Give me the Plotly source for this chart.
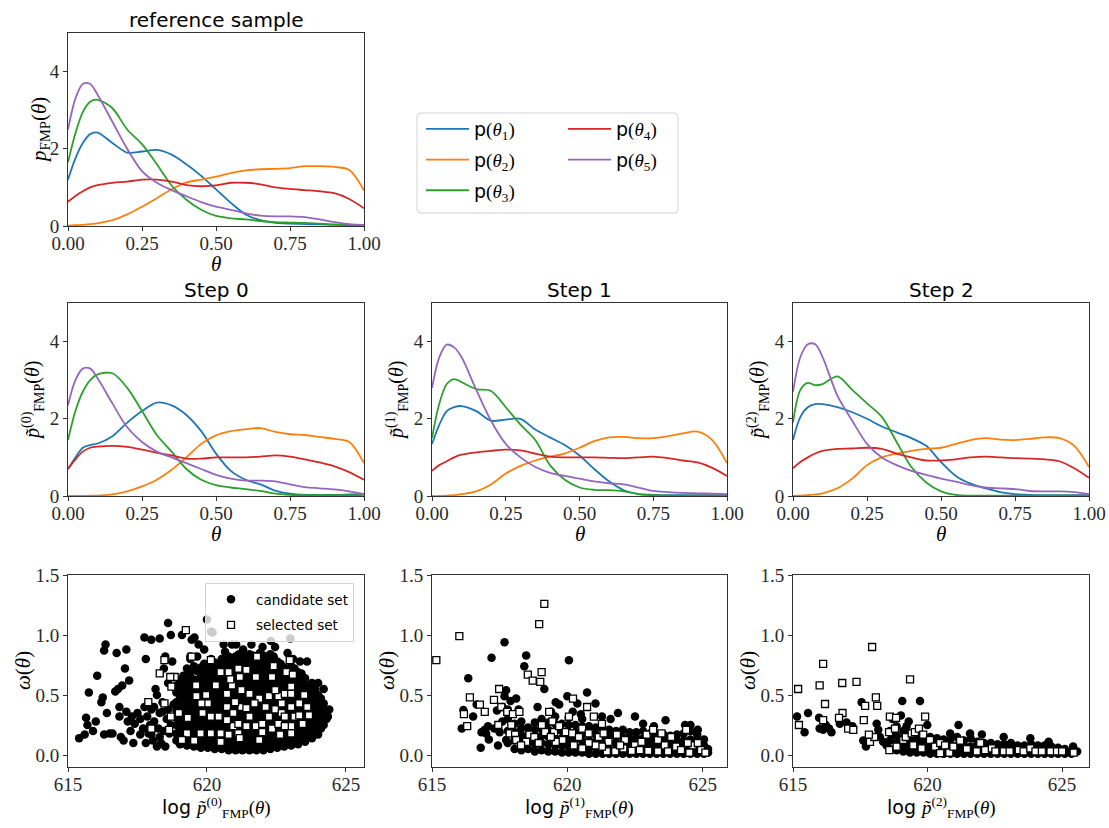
import plotly.graph_objects as go

# ---------------- data ----------------
theta = [0, 0.025, 0.05, 0.075, 0.1, 0.15, 0.2, 0.25, 0.3, 0.35, 0.4, 0.45,
         0.5, 0.55, 0.6, 0.65, 0.7, 0.75, 0.8, 0.85, 0.9, 0.95, 1.0]

ref_t1 = [1.2, 1.75, 2.15, 2.38, 2.42, 2.15, 1.9, 1.93, 1.97, 1.85, 1.6, 1.3, 0.95, 0.6, 0.3, 0.15, 0.08, 0.06, 0.05, 0.04, 0.03, 0.02, 0.02]
ref_t2 = [0.01, 0.02, 0.03, 0.05, 0.07, 0.15, 0.3, 0.5, 0.72, 0.95, 1.13, 1.2, 1.28, 1.37, 1.44, 1.47, 1.48, 1.5, 1.55, 1.55, 1.53, 1.45, 0.92]
ref_t3 = [1.65, 2.4, 2.95, 3.22, 3.27, 3.05, 2.5, 2.12, 1.6, 1.05, 0.68, 0.42, 0.26, 0.2, 0.17, 0.13, 0.1, 0.09, 0.08, 0.06, 0.04, 0.03, 0.02]
ref_t4 = [0.63, 0.78, 0.9, 1.0, 1.06, 1.12, 1.15, 1.2, 1.2, 1.15, 1.06, 1.03, 1.05, 1.12, 1.12, 1.08, 1.0, 0.96, 0.93, 0.9, 0.85, 0.7, 0.46]
ref_t5 = [2.5, 3.3, 3.68, 3.68, 3.4, 2.7, 2.0, 1.42, 1.12, 0.93, 0.77, 0.62, 0.5, 0.42, 0.33, 0.27, 0.25, 0.25, 0.23, 0.17, 0.1, 0.05, 0.03]

s0_t1 = [0.7, 1.0, 1.25, 1.32, 1.36, 1.55, 1.9, 2.2, 2.42, 2.35, 2.1, 1.68, 1.1, 0.65, 0.42, 0.3, 0.14, 0.06, 0.03, 0.03, 0.03, 0.04, 0.05]
s0_t2 = [0.0, 0.0, 0.0, 0.01, 0.01, 0.04, 0.12, 0.25, 0.42, 0.68, 1.0, 1.35, 1.57, 1.68, 1.73, 1.76, 1.66, 1.6, 1.58, 1.53, 1.48, 1.4, 0.85]
s0_t3 = [1.45, 2.2, 2.7, 3.0, 3.15, 3.18, 2.8, 2.2, 1.58, 1.15, 0.7, 0.42, 0.28, 0.22, 0.18, 0.13, 0.06, 0.03, 0.02, 0.02, 0.02, 0.02, 0.03]
s0_t4 = [0.7, 0.95, 1.15, 1.25, 1.28, 1.3, 1.27, 1.2, 1.12, 1.05, 0.97, 0.97, 1.0, 1.0, 1.0, 1.02, 1.05, 1.02, 0.95, 0.87, 0.77, 0.62, 0.42]
s0_t5 = [2.35, 3.0, 3.3, 3.3, 3.05, 2.4, 1.78, 1.4, 1.15, 1.0, 0.85, 0.7, 0.55, 0.45, 0.4, 0.4, 0.38, 0.3, 0.23, 0.2, 0.17, 0.12, 0.05]

s1_t1 = [1.35, 1.85, 2.2, 2.3, 2.33, 2.2, 1.95, 1.98, 2.0, 1.72, 1.52, 1.32, 1.05, 0.7, 0.38, 0.15, 0.05, 0.03, 0.02, 0.02, 0.02, 0.02, 0.02]
s1_t2 = [0.0, 0.0, 0.01, 0.02, 0.05, 0.12, 0.3, 0.58, 0.78, 0.92, 1.02, 1.1, 1.25, 1.42, 1.52, 1.53, 1.5, 1.5, 1.55, 1.62, 1.67, 1.45, 0.85]
s1_t3 = [1.5, 2.4, 2.9, 3.03, 2.95, 2.77, 2.72, 2.3, 1.85, 1.45, 0.8, 0.42, 0.22, 0.16, 0.15, 0.12, 0.05, 0.02, 0.01, 0.01, 0.01, 0.01, 0.02]
s1_t4 = [0.65, 0.8, 0.9, 1.0, 1.07, 1.13, 1.17, 1.2, 1.18, 1.1, 1.02, 1.0, 1.0, 1.0, 0.99, 0.98, 1.0, 1.02, 0.98, 0.92, 0.87, 0.73, 0.52]
s1_t5 = [2.8, 3.6, 3.92, 3.85, 3.6, 2.75, 1.95, 1.35, 1.0, 0.75, 0.6, 0.52, 0.45, 0.38, 0.33, 0.3, 0.22, 0.13, 0.1, 0.08, 0.07, 0.06, 0.05]

s2_t1 = [1.45, 2.05, 2.3, 2.38, 2.38, 2.3, 2.17, 2.0, 1.8, 1.65, 1.5, 1.3, 0.88, 0.52, 0.32, 0.2, 0.1, 0.05, 0.03, 0.02, 0.02, 0.02, 0.02]
s2_t2 = [0.0, 0.01, 0.02, 0.04, 0.07, 0.2, 0.45, 0.8, 1.0, 1.1, 1.17, 1.22, 1.25, 1.35, 1.45, 1.5, 1.46, 1.45, 1.48, 1.52, 1.5, 1.3, 0.75]
s2_t3 = [1.9, 2.75, 2.93, 2.87, 2.9, 3.1, 2.75, 2.4, 2.05, 1.4, 0.75, 0.35, 0.12, 0.03, 0.01, 0.01, 0.01, 0.01, 0.01, 0.01, 0.01, 0.01, 0.01]
s2_t4 = [0.72, 0.88, 1.0, 1.1, 1.17, 1.22, 1.23, 1.25, 1.22, 1.1, 1.0, 0.92, 0.92, 0.95, 1.0, 1.02, 1.0, 0.98, 0.97, 0.95, 0.9, 0.72, 0.47]
s2_t5 = [2.7, 3.6, 3.93, 3.93, 3.6, 2.6, 1.95, 1.35, 1.0, 0.8, 0.65, 0.55, 0.45, 0.37, 0.28, 0.22, 0.2, 0.18, 0.13, 0.12, 0.12, 0.1, 0.05]

series_names = ["1", "2", "3", "4", "5"]
series_colors = ["#1f77b4", "#ff7f0e", "#2ca02c", "#d62728", "#9467bd"]

# --- scatter: step 0 (log p, omega) ---
cand0_pts = [
    (615.4, 0.14), (615.6, 0.17), (615.65, 0.31), (615.7, 0.25), (615.75, 0.52), (615.9, 0.2),
    (616.0, 0.28), (616.05, 0.66), (616.2, 0.44), (616.25, 0.48), (616.3, 0.87), (616.35, 0.92),
    (616.3, 0.17), (616.4, 0.35), (616.5, 0.18), (616.6, 0.18), (616.7, 0.53), (616.75, 0.85),
    (616.8, 0.55), (616.85, 0.4), (616.85, 0.32), (616.9, 0.15), (616.95, 0.58), (617.0, 0.12),
    (617.05, 0.72), (617.1, 0.88), (617.1, 0.36), (617.15, 0.28), (617.2, 0.62), (617.25, 0.2),
    (617.3, 0.32), (617.35, 0.1), (617.4, 0.26), (617.5, 0.35), (617.6, 0.17), (617.7, 0.22),
    (617.75, 0.98), (617.75, 0.4), (617.8, 0.8), (617.85, 0.32), (617.9, 0.18), (618.0, 0.96),
    (618.0, 0.38), (618.05, 0.12), (618.1, 0.28), (618.15, 0.55), (618.2, 0.5), (618.25, 0.22),
    (618.3, 0.97), (618.3, 0.35), (618.35, 0.1), (618.4, 0.44), (618.45, 0.72), (618.5, 0.82),
    (618.55, 0.3), (618.6, 1.1), (618.6, 0.6), (618.65, 0.18), (618.7, 1.0), (618.75, 0.78),
    (618.8, 0.42), (618.85, 0.56), (619.1, 1.0), (619.45, 0.96), (619.4, 0.82), (619.55, 0.98),
    (619.7, 0.92), (619.9, 0.88), (620.0, 1.13), (620.15, 1.03), (620.2, 1.02), (620.6, 0.92),
    (620.9, 0.92), (621.05, 0.92), (621.6, 0.92), (621.3, 0.88), (622.0, 0.9), (622.3, 0.95),
    (622.45, 0.9), (622.9, 0.85), (623.1, 0.8), (623.35, 0.78), (623.6, 0.78), (623.0, 0.97),
    (624.0, 0.6), (624.2, 0.55), (624.35, 0.32), (624.4, 0.38), (617.95, 0.25), (618.1, 0.4),
    (618.4, 0.36), (618.3, 0.15), (618.6, 0.38), (618.7, 0.25), (618.45, 0.2), (617.6, 0.3),
    (617.8, 0.1), (618.0, 0.17), (618.2, 0.07), (618.5, 0.07),
]
cand0_cols = [
    (618.9, [0.12, 0.18, 0.25, 0.31, 0.37, 0.44, 0.52, 0.58]),
    (619.03, [0.09, 0.15, 0.21, 0.28, 0.34, 0.4, 0.47, 0.55, 0.62]),
    (619.15, [0.1, 0.16, 0.22, 0.28, 0.35, 0.41, 0.47, 0.53, 0.6, 0.66]),
    (619.28, [0.08, 0.14, 0.2, 0.26, 0.32, 0.38, 0.45, 0.51, 0.57, 0.64, 0.72]),
    (619.4, [0.11, 0.17, 0.23, 0.29, 0.35, 0.41, 0.48, 0.54, 0.6, 0.68, 0.8]),
    (619.53, [0.07, 0.13, 0.19, 0.25, 0.31, 0.37, 0.43, 0.5, 0.57, 0.63, 0.74]),
    (619.65, [0.08, 0.14, 0.2, 0.26, 0.32, 0.38, 0.44, 0.5, 0.56, 0.62, 0.7, 0.82]),
    (619.78, [0.06, 0.12, 0.18, 0.24, 0.3, 0.36, 0.42, 0.48, 0.54, 0.6, 0.66, 0.73]),
    (619.9, [0.09, 0.15, 0.21, 0.27, 0.33, 0.39, 0.45, 0.51, 0.57, 0.63, 0.69, 0.76]),
    (620.03, [0.06, 0.12, 0.18, 0.24, 0.3, 0.36, 0.42, 0.48, 0.54, 0.6, 0.66, 0.72]),
    (620.15, [0.07, 0.13, 0.19, 0.25, 0.31, 0.37, 0.43, 0.49, 0.55, 0.61, 0.67, 0.73, 0.8]),
    (620.28, [0.05, 0.1, 0.16, 0.22, 0.28, 0.34, 0.4, 0.46, 0.52, 0.58, 0.64, 0.7, 0.77]),
    (620.4, [0.08, 0.14, 0.2, 0.26, 0.32, 0.38, 0.44, 0.5, 0.56, 0.62, 0.68, 0.75]),
    (620.53, [0.05, 0.11, 0.17, 0.23, 0.29, 0.35, 0.41, 0.47, 0.53, 0.59, 0.65, 0.71, 0.8]),
    (620.65, [0.06, 0.12, 0.18, 0.24, 0.3, 0.36, 0.42, 0.48, 0.54, 0.6, 0.66, 0.72, 0.78, 0.86]),
    (620.78, [0.04, 0.1, 0.16, 0.22, 0.28, 0.34, 0.4, 0.46, 0.52, 0.58, 0.64, 0.7, 0.76, 0.82]),
    (620.9, [0.07, 0.13, 0.19, 0.25, 0.31, 0.37, 0.43, 0.49, 0.55, 0.61, 0.67, 0.73, 0.8]),
    (621.03, [0.04, 0.09, 0.15, 0.21, 0.27, 0.33, 0.39, 0.45, 0.51, 0.57, 0.63, 0.69, 0.75, 0.82]),
    (621.15, [0.05, 0.11, 0.17, 0.23, 0.29, 0.35, 0.41, 0.47, 0.53, 0.59, 0.65, 0.71, 0.77, 0.84]),
    (621.28, [0.04, 0.09, 0.15, 0.21, 0.27, 0.33, 0.39, 0.45, 0.51, 0.57, 0.63, 0.69, 0.75, 0.83]),
    (621.4, [0.06, 0.12, 0.18, 0.24, 0.3, 0.36, 0.42, 0.48, 0.54, 0.6, 0.66, 0.72, 0.8]),
    (621.53, [0.04, 0.09, 0.15, 0.21, 0.27, 0.33, 0.39, 0.45, 0.51, 0.57, 0.63, 0.69, 0.75, 0.84]),
    (621.65, [0.05, 0.11, 0.17, 0.23, 0.29, 0.35, 0.41, 0.47, 0.53, 0.59, 0.65, 0.71, 0.77, 0.83]),
    (621.78, [0.04, 0.09, 0.15, 0.21, 0.27, 0.33, 0.39, 0.45, 0.51, 0.57, 0.63, 0.69, 0.75, 0.82]),
    (621.9, [0.06, 0.12, 0.18, 0.24, 0.3, 0.36, 0.42, 0.48, 0.54, 0.6, 0.66, 0.72, 0.79, 0.85]),
    (622.03, [0.04, 0.1, 0.16, 0.22, 0.28, 0.34, 0.4, 0.46, 0.52, 0.58, 0.64, 0.7, 0.76, 0.83]),
    (622.15, [0.07, 0.13, 0.19, 0.25, 0.31, 0.37, 0.43, 0.49, 0.55, 0.61, 0.67, 0.73, 0.8]),
    (622.28, [0.05, 0.1, 0.16, 0.22, 0.28, 0.34, 0.4, 0.46, 0.52, 0.58, 0.64, 0.7, 0.77, 0.84]),
    (622.4, [0.08, 0.14, 0.2, 0.26, 0.32, 0.38, 0.44, 0.5, 0.56, 0.62, 0.68, 0.74, 0.82]),
    (622.53, [0.06, 0.11, 0.17, 0.23, 0.29, 0.35, 0.41, 0.47, 0.53, 0.59, 0.65, 0.71, 0.78]),
    (622.65, [0.09, 0.15, 0.21, 0.27, 0.33, 0.39, 0.45, 0.51, 0.57, 0.63, 0.69, 0.76]),
    (622.78, [0.07, 0.12, 0.18, 0.24, 0.3, 0.36, 0.42, 0.48, 0.54, 0.6, 0.66, 0.73]),
    (622.9, [0.1, 0.16, 0.22, 0.28, 0.34, 0.4, 0.46, 0.52, 0.58, 0.64, 0.7]),
    (623.03, [0.08, 0.13, 0.19, 0.25, 0.31, 0.37, 0.43, 0.49, 0.55, 0.61, 0.67, 0.74]),
    (623.15, [0.11, 0.17, 0.23, 0.29, 0.35, 0.41, 0.47, 0.53, 0.59, 0.65, 0.72]),
    (623.28, [0.09, 0.14, 0.2, 0.26, 0.32, 0.38, 0.44, 0.5, 0.56, 0.62, 0.69]),
    (623.4, [0.13, 0.19, 0.25, 0.31, 0.37, 0.43, 0.49, 0.55, 0.61, 0.68]),
    (623.53, [0.11, 0.16, 0.22, 0.28, 0.34, 0.4, 0.46, 0.52, 0.58, 0.64]),
    (623.65, [0.15, 0.21, 0.27, 0.33, 0.39, 0.45, 0.51, 0.58]),
    (623.78, [0.14, 0.18, 0.24, 0.3, 0.36, 0.42, 0.48, 0.54, 0.6]),
    (623.9, [0.18, 0.24, 0.3, 0.36, 0.42, 0.48, 0.55]),
    (624.0, [0.17, 0.21, 0.27, 0.33, 0.39, 0.45, 0.5]),
    (624.1, [0.22, 0.28, 0.34, 0.4, 0.47]),
    (624.2, [0.25, 0.31, 0.37, 0.43]),
    (624.3, [0.3, 0.36]),
]
sel0_pts = [
    (619.24, 1.04), (619.45, 0.82), (620.14, 0.79), (618.47, 0.79), (618.3, 0.68), (618.84, 0.65),
    (618.72, 0.57), (617.89, 0.44), (618.0, 0.22), (618.64, 0.21), (618.7, 0.32), (618.99, 0.35),
    (619.31, 0.31), (619.28, 0.18), (619.1, 0.125), (619.54, 0.12), (619.77, 0.18), (619.84, 0.35),
    (620.14, 0.32), (620.42, 0.32), (620.03, 0.43), (619.8, 0.43), (619.61, 0.58), (619.62, 0.49),
    (619.97, 0.5), (620.32, 0.58), (620.49, 0.69), (620.78, 0.69), (620.9, 0.58), (620.72, 0.51),
    (621.13, 0.72), (621.42, 0.71), (621.18, 0.65), (621.24, 0.54), (620.84, 0.63), (620.72, 0.4),
    (620.49, 0.18), (620.14, 0.18), (620.49, 0.11), (620.95, 0.24), (620.95, 0.35), (620.72, 0.29),
    (621.24, 0.4), (621.01, 0.44), (621.53, 0.51), (621.76, 0.65), (621.8, 0.82), (621.88, 0.47),
    (622.34, 0.65), (622.4, 0.74), (622.23, 0.49), (621.71, 0.43), (621.42, 0.39), (621.53, 0.32),
    (621.13, 0.26), (621.13, 0.18), (621.42, 0.24), (621.76, 0.24), (621.99, 0.26), (621.99, 0.19),
    (622.34, 0.22), (622.23, 0.32), (622.46, 0.38), (622.11, 0.4), (622.69, 0.43), (622.57, 0.49),
    (622.8, 0.51), (622.46, 0.54), (622.86, 0.69), (622.98, 0.79), (623.03, 0.57), (622.69, 0.35),
    (622.57, 0.26), (622.8, 0.32), (623.03, 0.4), (623.15, 0.32), (623.03, 0.24), (622.8, 0.24),
    (623.32, 0.43), (623.32, 0.33), (623.44, 0.26), (623.03, 0.18), (622.63, 0.17), (623.5, 0.5),
    (623.61, 0.4), (623.67, 0.33), (623.09, 0.67), (623.03, 0.51), (621.88, 0.125), (621.18, 0.14),
    (620.78, 0.17), (618.68, 0.65), (618.47, 0.43),
]

# --- scatter: step 1 ---
cand1_pts = [
    (616.34, 0.64), (616.16, 0.375), (616.1, 0.22), (616.52, 0.32), (616.65, 0.42), (616.83, 0.19),
    (616.8, 0.06), (616.95, 0.21), (617.07, 0.24), (617.2, 0.81), (617.44, 0.08), (617.68, 0.94),
    (617.74, 0.54), (617.68, 0.49), (617.6, 0.4), (617.74, 0.125), (617.9, 0.45), (618.11, 0.47),
    (618.41, 0.74), (618.48, 0.83), (618.9, 0.4), (619.15, 0.55), (619.57, 0.44), (619.7, 0.42),
    (620.0, 0.49), (620.06, 0.79), (620.37, 0.43), (620.73, 0.52), (621.04, 0.43), (621.28, 0.32),
    (621.87, 0.35), (622.5, 0.32), (623.63, 0.29), (624.35, 0.25), (624.82, 0.21), (617.0, 0.18),
    (617.1, 0.13), (617.3, 0.22), (617.5, 0.19), (617.6, 0.28), (617.4, 0.37), (618.2, 0.38),
    (619.4, 0.36), (620.2, 0.36), (620.5, 0.34), (621.6, 0.3), (622.8, 0.26), (623.2, 0.24),
]
cand1_cols = [
    (617.8, [0.1, 0.2, 0.3, 0.38]),
    (618.05, [0.05, 0.12, 0.19, 0.26]),
    (618.3, [0.04, 0.1, 0.16, 0.22, 0.28]),
    (618.55, [0.05, 0.11, 0.17, 0.23]),
    (618.8, [0.03, 0.09, 0.15, 0.21, 0.27]),
    (619.05, [0.04, 0.1, 0.16, 0.22, 0.3]),
    (619.3, [0.03, 0.09, 0.15, 0.21, 0.27]),
    (619.55, [0.03, 0.08, 0.14, 0.2, 0.26, 0.32]),
    (619.8, [0.02, 0.08, 0.14, 0.2, 0.26]),
    (620.05, [0.02, 0.07, 0.13, 0.19, 0.25, 0.31]),
    (620.3, [0.02, 0.07, 0.13, 0.19, 0.25]),
    (620.55, [0.02, 0.07, 0.12, 0.18, 0.24, 0.3]),
    (620.8, [0.01, 0.06, 0.12, 0.18, 0.24]),
    (621.05, [0.01, 0.06, 0.11, 0.17, 0.23]),
    (621.3, [0.01, 0.06, 0.11, 0.16, 0.22]),
    (621.55, [0.01, 0.05, 0.1, 0.16, 0.21]),
    (621.8, [0.01, 0.05, 0.1, 0.15, 0.2]),
    (622.05, [0.01, 0.05, 0.1, 0.15, 0.21]),
    (622.3, [0.01, 0.05, 0.09, 0.14, 0.19]),
    (622.55, [0.01, 0.05, 0.09, 0.14, 0.19]),
    (622.8, [0.01, 0.05, 0.09, 0.14, 0.2]),
    (623.05, [0.01, 0.05, 0.09, 0.13, 0.18]),
    (623.3, [0.01, 0.04, 0.08, 0.13, 0.17]),
    (623.55, [0.01, 0.04, 0.08, 0.12, 0.17]),
    (623.8, [0.01, 0.04, 0.08, 0.12, 0.16]),
    (624.05, [0.01, 0.04, 0.08, 0.12, 0.17]),
    (624.3, [0.01, 0.04, 0.08, 0.12, 0.18]),
    (624.55, [0.01, 0.04, 0.08, 0.13, 0.2, 0.25]),
    (624.8, [0.01, 0.04, 0.08, 0.12, 0.17]),
    (625.05, [0.01, 0.04, 0.08, 0.13]),
    (625.2, [0.02, 0.05]),
]
sel1_pts = [
    (615.16, 0.79), (616.01, 0.99), (619.15, 1.26), (618.96, 1.09), (619.05, 0.69), (619.0, 0.61),
    (618.54, 0.67), (618.72, 0.62), (617.48, 0.55), (617.29, 0.46), (617.56, 0.4), (617.78, 0.36),
    (617.99, 0.34), (618.23, 0.36), (617.45, 0.25), (617.93, 0.25), (617.87, 0.18), (618.07, 0.17),
    (618.11, 0.125), (618.6, 0.17), (618.78, 0.15), (619.06, 0.25), (619.33, 0.36), (619.18, 0.19),
    (619.51, 0.19), (619.45, 0.28), (619.7, 0.24), (619.94, 0.19), (620.06, 0.32), (620.21, 0.47),
    (620.55, 0.22), (620.73, 0.4), (620.98, 0.32), (621.28, 0.26), (620.18, 0.18), (620.43, 0.15),
    (620.79, 0.18), (621.16, 0.15), (621.34, 0.18), (621.52, 0.11), (621.83, 0.17), (622.13, 0.125),
    (622.5, 0.08), (622.93, 0.17), (623.17, 0.21), (623.35, 0.125), (623.6, 0.08), (623.84, 0.15),
    (624.02, 0.07), (624.39, 0.21), (624.63, 0.08), (624.82, 0.1), (624.94, 0.04), (624.51, 0.02),
    (624.2, 0.04), (623.72, 0.03), (623.35, 0.03), (622.99, 0.035), (622.68, 0.04), (622.38, 0.035),
    (622.07, 0.055), (621.77, 0.03), (621.46, 0.03), (621.28, 0.07), (621.04, 0.08), (620.79, 0.1),
    (620.55, 0.055), (620.24, 0.08), (619.82, 0.125), (619.57, 0.11), (619.39, 0.15), (618.94, 0.1),
    (618.48, 0.11), (618.29, 0.08), (616.18, 0.34), (616.77, 0.42), (621.95, 0.08), (622.74, 0.11),
    (623.48, 0.18), (625.1, 0.02), (624.45, 0.1), (616.4, 0.48), (616.3, 0.24), (616.95, 0.36),
]

# --- scatter: step 2 ---
cand2_pts = [
    (615.15, 0.32), (615.56, 0.35), (615.43, 0.19), (615.97, 0.31), (615.99, 0.22), (616.12, 0.21),
    (616.22, 0.25), (616.34, 0.22), (616.43, 0.19), (616.74, 0.26), (616.99, 0.27), (617.21, 0.24),
    (617.55, 0.44), (617.61, 0.12), (617.71, 0.07), (617.8, 0.11), (617.92, 0.15), (618.11, 0.26),
    (618.17, 0.21), (618.23, 0.15), (618.35, 0.11), (618.48, 0.08), (618.66, 0.17), (618.85, 0.24),
    (619.01, 0.33), (619.06, 0.45), (619.72, 0.45), (619.99, 0.25), (619.22, 0.24), (619.47, 0.125),
    (621.15, 0.25), (620.84, 0.18), (621.58, 0.18), (622.02, 0.17), (622.83, 0.15), (623.82, 0.14),
    (624.5, 0.11), (625.41, 0.07), (625.56, 0.03), (618.7, 0.3), (619.3, 0.28),
]
cand2_cols = [
    (618.6, [0.05, 0.12, 0.2]),
    (618.85, [0.04, 0.1, 0.16]),
    (619.1, [0.03, 0.08, 0.14, 0.2]),
    (619.35, [0.02, 0.07, 0.12, 0.18]),
    (619.6, [0.02, 0.06, 0.11, 0.16]),
    (619.85, [0.02, 0.06, 0.1, 0.15]),
    (620.1, [0.01, 0.05, 0.1, 0.15]),
    (620.35, [0.01, 0.05, 0.09, 0.14]),
    (620.6, [0.01, 0.04, 0.09, 0.13]),
    (620.85, [0.01, 0.04, 0.08, 0.13]),
    (621.1, [0.01, 0.04, 0.08, 0.15]),
    (621.35, [0.01, 0.04, 0.08, 0.12]),
    (621.6, [0.01, 0.04, 0.07, 0.14]),
    (621.85, [0.01, 0.03, 0.07, 0.11]),
    (622.1, [0.01, 0.03, 0.07, 0.1]),
    (622.35, [0.01, 0.03, 0.06, 0.1]),
    (622.6, [0.01, 0.03, 0.06, 0.09]),
    (622.85, [0.01, 0.03, 0.06, 0.09]),
    (623.1, [0.01, 0.03, 0.06, 0.1]),
    (623.35, [0.01, 0.03, 0.05, 0.08]),
    (623.6, [0.01, 0.03, 0.05, 0.08]),
    (623.85, [0.01, 0.03, 0.05, 0.09]),
    (624.1, [0.01, 0.03, 0.05, 0.08]),
    (624.35, [0.01, 0.02, 0.05, 0.08]),
    (624.6, [0.01, 0.02, 0.04, 0.07]),
    (624.85, [0.01, 0.02, 0.04, 0.06]),
    (625.1, [0.01, 0.02, 0.05]),
    (625.35, [0.01, 0.03]),
]
sel2_pts = [
    (615.19, 0.55), (615.22, 0.25), (615.99, 0.58), (616.12, 0.76), (616.19, 0.425), (616.12, 0.29),
    (616.83, 0.6), (617.36, 0.61), (616.84, 0.35), (616.71, 0.31), (617.05, 0.22), (617.24, 0.21),
    (617.63, 0.29), (617.68, 0.41), (617.94, 0.9), (618.08, 0.48), (618.13, 0.41), (617.86, 0.11),
    (618.02, 0.15), (617.82, 0.17), (618.57, 0.19), (618.6, 0.32), (618.83, 0.31), (618.79, 0.22),
    (618.58, 0.04), (618.85, 0.07), (619.1, 0.125), (619.19, 0.15), (619.35, 0.63), (619.41, 0.18),
    (619.53, 0.19), (619.68, 0.22), (619.91, 0.32), (619.84, 0.17), (619.47, 0.08), (619.78, 0.055),
    (620.09, 0.125), (620.28, 0.07), (620.47, 0.1), (620.65, 0.08), (620.81, 0.02), (620.96, 0.07),
    (621.21, 0.12), (621.46, 0.05), (621.83, 0.03), (622.14, 0.04), (622.39, 0.055), (622.52, 0.03),
    (622.83, 0.03), (623.05, 0.03), (623.39, 0.04), (623.57, 0.03), (623.82, 0.055), (624.01, 0.03),
    (624.25, 0.03), (624.57, 0.03), (624.81, 0.03), (625.0, 0.03), (625.43, 0.02), (621.96, 0.1),
    (620.47, 0.015),
]

xlims_scatter = [[615, 625.65], [615, 625.9], [615, 626.0]]

# ---------------- helpers ----------------
W, H = 1109, 828


def fx(p):
    return p / W


def fy(p):
    return 1 - p / H


def flatten(pts, cols):
    xs = [p[0] for p in pts]
    ys = [p[1] for p in pts]
    for cx, cys in cols:
        for v in cys:
            xs.append(cx)
            ys.append(v)
    return xs, ys


SERIF = "Liberation Serif"
SANS = "DejaVu Sans"
AXC = "#333333"

col_px = [(68, 364), (432, 727), (793, 1089)]
row_px = {1: (33, 226), 2: (303, 496), 3: (575, 767)}

fig = go.Figure()

# ---------------- density traces ----------------
density_sets = [
    ("", [ref_t1, ref_t2, ref_t3, ref_t4, ref_t5]),
    ("2", [s0_t1, s0_t2, s0_t3, s0_t4, s0_t5]),
    ("3", [s1_t1, s1_t2, s1_t3, s1_t4, s1_t5]),
    ("4", [s2_t1, s2_t2, s2_t3, s2_t4, s2_t5]),
]
for k, (ax, sets) in enumerate(density_sets):
    for i, vals in enumerate(sets):
        name = ('p<span style="font-family:%s">(<i>θ</i><sub>%s</sub>)</span>'
                % (SERIF, series_names[i]))
        fig.add_trace(go.Scatter(
            x=theta, y=vals, mode="lines",
            line=dict(color=series_colors[i], width=1.8, shape="spline", smoothing=0.9),
            name=name, xaxis="x" + ax, yaxis="y" + ax,
            showlegend=(k == 0), legendgroup="g%d" % i,
            legend=("legend" if i < 3 else "legend2"),
            hoverinfo="skip",
        ))

# ---------------- scatter traces ----------------
scatter_sets = [
    ("5", cand0_pts, cand0_cols, sel0_pts),
    ("6", cand1_pts, cand1_cols, sel1_pts),
    ("7", cand2_pts, cand2_cols, sel2_pts),
]
for k, (ax, cpts, ccols, spts) in enumerate(scatter_sets):
    cx, cy = flatten(cpts, ccols)
    fig.add_trace(go.Scatter(
        x=cx, y=cy, mode="markers",
        marker=dict(symbol="circle", size=8.5, color="black", line=dict(width=0)),
        name="candidate set", xaxis="x" + ax, yaxis="y" + ax,
        showlegend=(k == 0), legend="legend3", legendgroup="cand", hoverinfo="skip",
    ))
    fig.add_trace(go.Scatter(
        x=[p[0] for p in spts], y=[p[1] for p in spts], mode="markers",
        marker=dict(symbol="square", size=7, color="white", line=dict(width=1.3, color="black")),
        name="selected set", xaxis="x" + ax, yaxis="y" + ax,
        showlegend=(k == 0), legend="legend3", legendgroup="sel", hoverinfo="skip",
    ))

# ---------------- axes ----------------
axis_common = dict(
    showline=True, mirror=True, linecolor=AXC, linewidth=1,
    ticks="outside", ticklen=4, tickcolor=AXC, tickwidth=1,
    showgrid=False, zeroline=False, automargin=False,
    tickfont=dict(family=SERIF, size=19, color="#2a2a2a"),
)


def dom_x(c):
    a, b = col_px[c]
    return [fx(a), fx(b)]


def dom_y(r):
    t, b = row_px[r]
    return [fy(b), fy(t)]


layout_axes = {}
dens_pos = {"": (1, 0), "2": (2, 0), "3": (2, 1), "4": (2, 2)}
for ax, (r, c) in dens_pos.items():
    layout_axes["xaxis" + ax] = dict(
        axis_common, domain=dom_x(c), range=[0, 1], anchor="y" + ax,
        ticklabelstandoff=-4,
        tickvals=[0, 0.25, 0.5, 0.75, 1.0], ticktext=["0.00", "0.25", "0.50", "0.75", "1.00"])
    layout_axes["yaxis" + ax] = dict(
        axis_common, domain=dom_y(r), range=[0, 5], anchor="x" + ax,
        tickvals=[0, 2, 4], ticktext=["0", "2", "4"])

scat_pos = {"5": 0, "6": 1, "7": 2}
for ax, c in scat_pos.items():
    layout_axes["xaxis" + ax] = dict(
        axis_common, domain=dom_x(c), range=xlims_scatter[c], anchor="y" + ax,
        ticklabelstandoff=-4,
        tickvals=[615, 620, 625], ticktext=["615", "620", "625"])
    layout_axes["yaxis" + ax] = dict(
        axis_common, domain=dom_y(3), range=[-0.1, 1.5], anchor="x" + ax,
        tickvals=[0, 0.5, 1.0, 1.5], ticktext=["0.0", "0.5", "1.0", "1.5"])

fig.update_layout(**layout_axes)

# ---------------- annotations (titles and axis labels) ----------------
ann = []


def add_text(x, y, text, size, family, angle=0):
    ann.append(dict(x=fx(x), y=fy(y), xref="paper", yref="paper", text=text,
                    showarrow=False, xanchor="center", yanchor="middle",
                    textangle=angle, font=dict(family=family, size=size, color="black")))


centers = [(a + b) / 2 for a, b in col_px]
add_text(centers[0], 20, "reference sample", 20, SANS)
for c in range(3):
    add_text(centers[c], 290, "Step %d" % c, 20, SANS)

theta_lbl = "<i>θ</i>"
add_text(centers[0], 264, theta_lbl, 21, SERIF)
for c in range(3):
    add_text(centers[c], 534, theta_lbl, 21, SERIF)

add_text(40, 130, "<i>p</i><sub>FMP</sub>(<i>θ</i>)", 21, SERIF, -90)
for c in range(3):
    add_text(col_px[c][0] - 35, 400,
             "<i>p̃</i><sup>(%d)</sup><sub>FMP</sub>(<i>θ</i>)" % c, 20, SERIF, -90)
    add_text(col_px[c][0] - 45, 671, "<i>ω</i>(<i>θ</i>)", 21, SERIF, -90)
    add_text(centers[c], 807,
             'log <span style="font-family:%s"><i>p̃</i><sup>(%d)</sup><sub>FMP</sub>(<i>θ</i>)</span>'
             % (SERIF, c), 19, SANS)

# ---------------- legend frame (rounded) ----------------
x0, y0, x1, y1, r = 417, 113, 678, 213, 4
path = ("M {a},{b} L {c},{b} Q {d},{b} {d},{e} L {d},{f} Q {d},{g} {c},{g} "
        "L {a},{g} Q {h},{g} {h},{f} L {h},{e} Q {h},{b} {a},{b} Z").format(
    a=fx(x0 + r), b=fy(y0), c=fx(x1 - r), d=fx(x1), e=fy(y0 + r), f=fy(y1 - r),
    g=fy(y1), h=fx(x0))

fig.update_layout(
    width=W, height=H, autosize=False,
    margin=dict(l=0, r=0, t=0, b=0, autoexpand=False),
    plot_bgcolor="white", paper_bgcolor="white",
    annotations=ann,
    shapes=[dict(type="path", path=path, xref="paper", yref="paper",
                 line=dict(color="#d4d4d4", width=1), fillcolor="white", layer="below")],
    legend=dict(x=fx(421), y=fy(110), xanchor="left", yanchor="top",
                bgcolor="rgba(0,0,0,0)", borderwidth=0, itemwidth=43,
                tracegroupgap=3, font=dict(family=SANS, size=19, color="black")),
    legend2=dict(x=fx(563), y=fy(110), xanchor="left", yanchor="top",
                 bgcolor="rgba(0,0,0,0)", borderwidth=0, itemwidth=43,
                 tracegroupgap=3, font=dict(family=SANS, size=19, color="black")),
    legend3=dict(x=fx(205), y=fy(583), xanchor="left", yanchor="top",
                 bgcolor="rgba(255,255,255,0.8)", bordercolor="#d4d4d4", borderwidth=1,
                 itemwidth=40, tracegroupgap=5,
                 font=dict(family=SANS, size=13.5, color="black")),
)

fig.write_html(
    "out.html",
    config={"displayModeBar": False},
    post_script="document.body.style.margin='0';document.body.style.overflow='hidden';",
)
